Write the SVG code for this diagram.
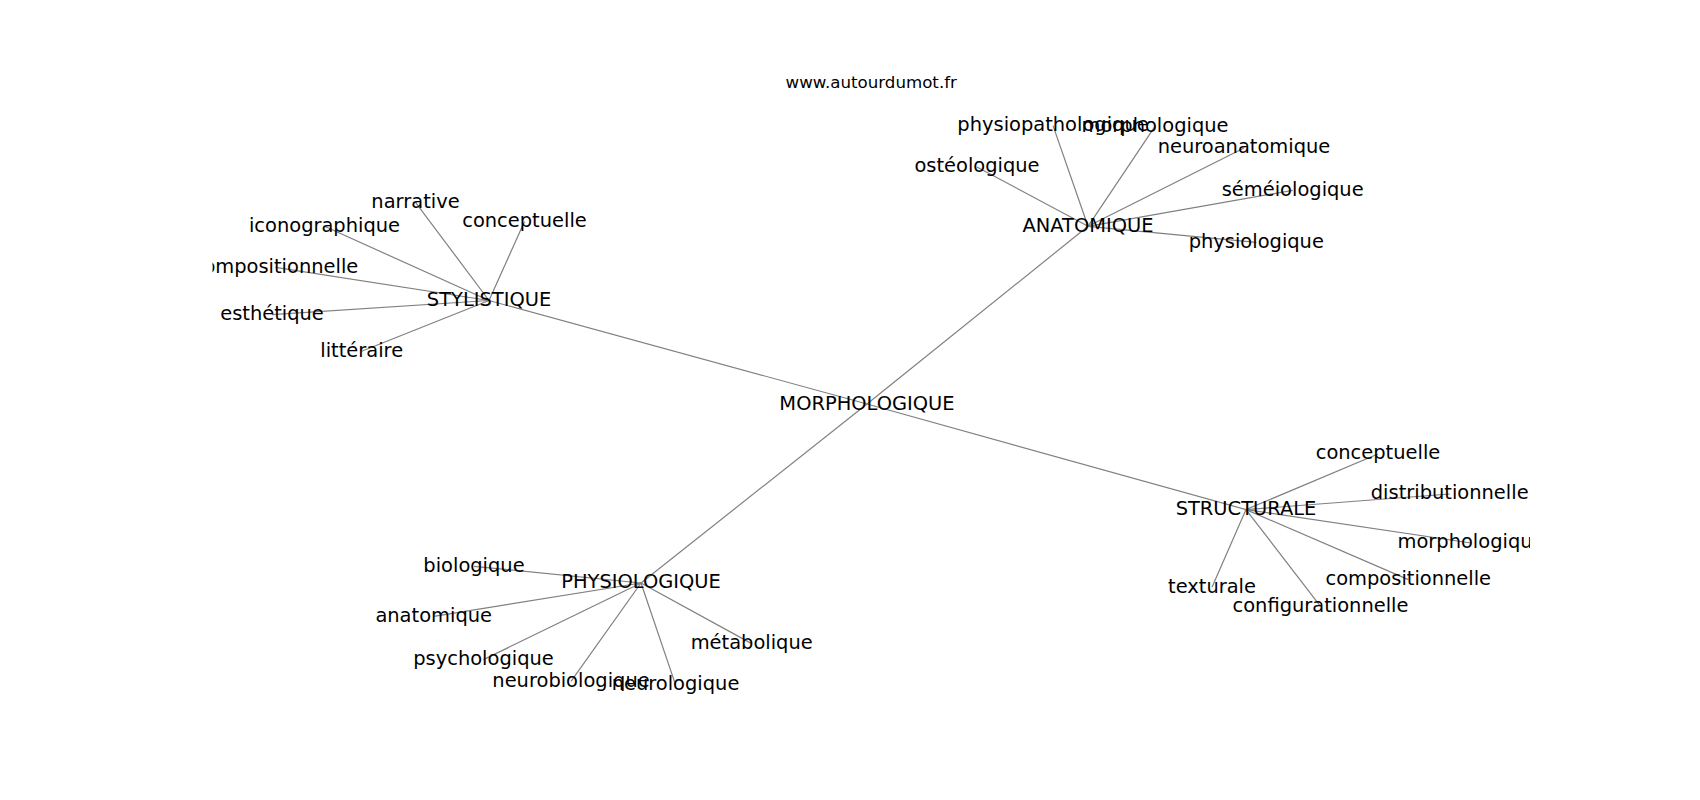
<svg xmlns="http://www.w3.org/2000/svg" width="1700" height="800" viewBox="0 0 1700 800">
<style>
.bg{fill:#ffffff}
.e{stroke:#808080;stroke-width:1.2;fill:none}
.l{font-family:"DejaVu Sans","Liberation Sans",sans-serif;font-size:19.44px;fill:#000000;text-anchor:middle}
.t{font-family:"DejaVu Sans","Liberation Sans",sans-serif;font-size:16.67px;fill:#000000;text-anchor:middle}
</style>
<defs>
<clipPath id="ax"><rect x="212.5" y="96" width="1317.5" height="616"/></clipPath>
</defs>
<rect class="bg" x="0" y="0" width="1700" height="800"/>
<text class="t" x="871.25" y="87.7">www.autourdumot.fr</text>
<g clip-path="url(#ax)">
<g id="connectors">
<line class="e" x1="867" y1="404" x2="489" y2="300.5"/>
<line class="e" x1="867" y1="404" x2="1088" y2="226.3"/>
<line class="e" x1="867" y1="404" x2="1246" y2="509.6"/>
<line class="e" x1="867" y1="404" x2="641" y2="583"/>
<line class="e" x1="489" y1="300.5" x2="415.5" y2="202.3"/>
<line class="e" x1="489" y1="300.5" x2="524.5" y2="221.5"/>
<line class="e" x1="489" y1="300.5" x2="324.5" y2="226.3"/>
<line class="e" x1="489" y1="300.5" x2="275.5" y2="267.3"/>
<line class="e" x1="489" y1="300.5" x2="272" y2="314.6"/>
<line class="e" x1="489" y1="300.5" x2="361.7" y2="351.3"/>
<line class="e" x1="1088" y1="226.3" x2="1053" y2="125.6"/>
<line class="e" x1="1088" y1="226.3" x2="1155" y2="126.3"/>
<line class="e" x1="1088" y1="226.3" x2="1244" y2="148"/>
<line class="e" x1="1088" y1="226.3" x2="977" y2="167"/>
<line class="e" x1="1088" y1="226.3" x2="1292.7" y2="190.3"/>
<line class="e" x1="1088" y1="226.3" x2="1256.3" y2="242.3"/>
<line class="e" x1="1246" y1="509.6" x2="1378" y2="454"/>
<line class="e" x1="1246" y1="509.6" x2="1449.7" y2="494"/>
<line class="e" x1="1246" y1="509.6" x2="1471" y2="543"/>
<line class="e" x1="1246" y1="509.6" x2="1408.3" y2="579.6"/>
<line class="e" x1="1246" y1="509.6" x2="1212" y2="587.3"/>
<line class="e" x1="1246" y1="509.6" x2="1320.5" y2="606.3"/>
<line class="e" x1="641" y1="583" x2="474" y2="566.3"/>
<line class="e" x1="641" y1="583" x2="433.7" y2="616.3"/>
<line class="e" x1="641" y1="583" x2="483.5" y2="659.6"/>
<line class="e" x1="641" y1="583" x2="571" y2="681.3"/>
<line class="e" x1="641" y1="583" x2="675.5" y2="684.6"/>
<line class="e" x1="641" y1="583" x2="751.7" y2="643.6"/>
</g>
<g id="n-morphologique-center"><text class="l" x="867" y="409.5">MORPHOLOGIQUE</text></g>
<g id="n-stylistique"><text class="l" x="489" y="306">STYLISTIQUE</text></g>
<g id="n-anatomique-hub"><text class="l" x="1088" y="231.7">ANATOMIQUE</text></g>
<g id="n-structurale"><text class="l" x="1246" y="515">STRUCTURALE</text></g>
<g id="n-physiologique-hub"><text class="l" x="641" y="588.3">PHYSIOLOGIQUE</text></g>
<g id="n-narrative"><text class="l" x="415.5" y="207.7">narrative</text></g>
<g id="n-conceptuelle-s"><text class="l" x="524.5" y="227">conceptuelle</text></g>
<g id="n-iconographique"><text class="l" x="324.5" y="231.7">iconographique</text></g>
<g id="n-compositionnelle-s"><text class="l" x="275.5" y="272.7">compositionnelle</text></g>
<g id="n-esthetique"><text class="l" x="272" y="320">esthétique</text></g>
<g id="n-litteraire"><text class="l" x="361.7" y="356.7">littéraire</text></g>
<g id="n-physiopathologique"><text class="l" x="1053" y="131">physiopathologique</text></g>
<g id="n-morphologique-a"><text class="l" x="1155" y="131.7">morphologique</text></g>
<g id="n-neuroanatomique"><text class="l" x="1244" y="153.3">neuroanatomique</text></g>
<g id="n-osteologique"><text class="l" x="977" y="172.3">ostéologique</text></g>
<g id="n-semeiologique"><text class="l" x="1292.7" y="195.7">séméiologique</text></g>
<g id="n-physiologique-a"><text class="l" x="1256.3" y="247.7">physiologique</text></g>
<g id="n-conceptuelle-st"><text class="l" x="1378" y="459.3">conceptuelle</text></g>
<g id="n-distributionnelle"><text class="l" x="1449.7" y="499.3">distributionnelle</text></g>
<g id="n-morphologique-st"><text class="l" x="1471" y="548.3">morphologique</text></g>
<g id="n-compositionnelle-st"><text class="l" x="1408.3" y="585">compositionnelle</text></g>
<g id="n-texturale"><text class="l" x="1212" y="592.7">texturale</text></g>
<g id="n-configurationnelle"><text class="l" x="1320.5" y="611.7">configurationnelle</text></g>
<g id="n-biologique"><text class="l" x="474" y="571.7">biologique</text></g>
<g id="n-anatomique-p"><text class="l" x="433.7" y="621.7">anatomique</text></g>
<g id="n-psychologique"><text class="l" x="483.5" y="665">psychologique</text></g>
<g id="n-neurobiologique"><text class="l" x="571" y="686.7">neurobiologique</text></g>
<g id="n-neurologique"><text class="l" x="675.5" y="690">neurologique</text></g>
<g id="n-metabolique"><text class="l" x="751.7" y="649">métabolique</text></g>
</g>
</svg>
